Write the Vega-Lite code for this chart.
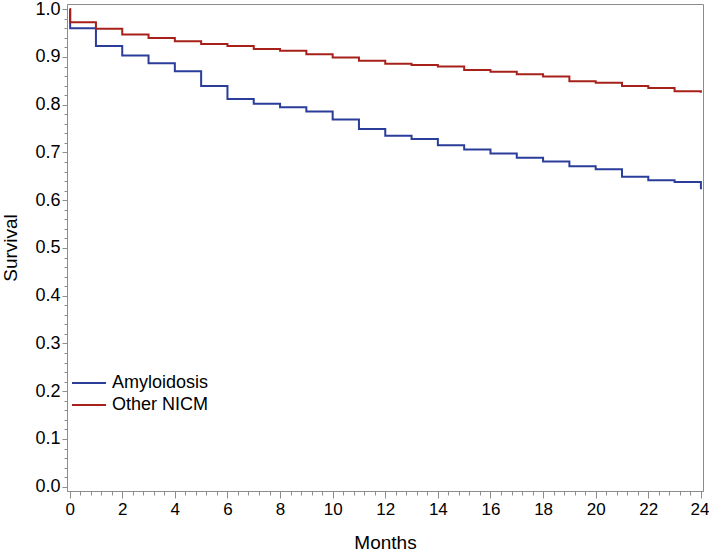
{
  "$schema": "https://vega.github.io/schema/vega-lite/v6.json",
  "width": 636,
  "height": 487,
  "autosize": {"type": "none"},
  "padding": {"left": 67, "top": 4, "right": 6, "bottom": 65},
  "background": "white",
  "config": {
    "font": "Liberation Sans",
    "view": {"stroke": "#8c8c8c", "strokeWidth": 1}
  },
  "data": {
    "values": [
      {"month": 0, "survival": 1.0, "group": "Amyloidosis"},
      {"month": 0.02, "survival": 0.960, "group": "Amyloidosis"},
      {"month": 1, "survival": 0.923, "group": "Amyloidosis"},
      {"month": 2, "survival": 0.903, "group": "Amyloidosis"},
      {"month": 3, "survival": 0.887, "group": "Amyloidosis"},
      {"month": 4, "survival": 0.870, "group": "Amyloidosis"},
      {"month": 5, "survival": 0.839, "group": "Amyloidosis"},
      {"month": 6, "survival": 0.812, "group": "Amyloidosis"},
      {"month": 7, "survival": 0.802, "group": "Amyloidosis"},
      {"month": 8, "survival": 0.795, "group": "Amyloidosis"},
      {"month": 9, "survival": 0.786, "group": "Amyloidosis"},
      {"month": 10, "survival": 0.769, "group": "Amyloidosis"},
      {"month": 11, "survival": 0.749, "group": "Amyloidosis"},
      {"month": 12, "survival": 0.735, "group": "Amyloidosis"},
      {"month": 13, "survival": 0.728, "group": "Amyloidosis"},
      {"month": 14, "survival": 0.715, "group": "Amyloidosis"},
      {"month": 15, "survival": 0.706, "group": "Amyloidosis"},
      {"month": 16, "survival": 0.698, "group": "Amyloidosis"},
      {"month": 17, "survival": 0.689, "group": "Amyloidosis"},
      {"month": 18, "survival": 0.681, "group": "Amyloidosis"},
      {"month": 19, "survival": 0.671, "group": "Amyloidosis"},
      {"month": 20, "survival": 0.665, "group": "Amyloidosis"},
      {"month": 21, "survival": 0.649, "group": "Amyloidosis"},
      {"month": 22, "survival": 0.642, "group": "Amyloidosis"},
      {"month": 23, "survival": 0.638, "group": "Amyloidosis"},
      {"month": 24, "survival": 0.623, "group": "Amyloidosis"},
      {"month": 0, "survival": 1.0, "group": "Other NICM"},
      {"month": 0.02, "survival": 0.973, "group": "Other NICM"},
      {"month": 1, "survival": 0.959, "group": "Other NICM"},
      {"month": 2, "survival": 0.947, "group": "Other NICM"},
      {"month": 3, "survival": 0.940, "group": "Other NICM"},
      {"month": 4, "survival": 0.933, "group": "Other NICM"},
      {"month": 5, "survival": 0.927, "group": "Other NICM"},
      {"month": 6, "survival": 0.923, "group": "Other NICM"},
      {"month": 7, "survival": 0.917, "group": "Other NICM"},
      {"month": 8, "survival": 0.913, "group": "Other NICM"},
      {"month": 9, "survival": 0.906, "group": "Other NICM"},
      {"month": 10, "survival": 0.899, "group": "Other NICM"},
      {"month": 11, "survival": 0.892, "group": "Other NICM"},
      {"month": 12, "survival": 0.886, "group": "Other NICM"},
      {"month": 13, "survival": 0.883, "group": "Other NICM"},
      {"month": 14, "survival": 0.880, "group": "Other NICM"},
      {"month": 15, "survival": 0.873, "group": "Other NICM"},
      {"month": 16, "survival": 0.869, "group": "Other NICM"},
      {"month": 17, "survival": 0.864, "group": "Other NICM"},
      {"month": 18, "survival": 0.859, "group": "Other NICM"},
      {"month": 19, "survival": 0.849, "group": "Other NICM"},
      {"month": 20, "survival": 0.846, "group": "Other NICM"},
      {"month": 21, "survival": 0.839, "group": "Other NICM"},
      {"month": 22, "survival": 0.835, "group": "Other NICM"},
      {"month": 23, "survival": 0.828, "group": "Other NICM"},
      {"month": 24, "survival": 0.825, "group": "Other NICM"}
    ]
  },
  "mark": {"type": "line", "interpolate": "step-after", "strokeWidth": 2},
  "encoding": {
    "x": {
      "field": "month",
      "type": "quantitative",
      "scale": {"domain": [-0.1, 24.08], "nice": false, "zero": false},
      "axis": {
        "title": "Months",
        "titleFontSize": 19,
        "titleFontWeight": "normal",
        "titleColor": "black",
        "titlePadding": 16,
        "values": [0,0.4,0.8,1.2,1.6,2,2.4,2.8,3.2,3.6,4,4.4,4.8,5.2,5.6,6,6.4,6.8,7.2,7.6,8,8.4,8.8,9.2,9.6,10,10.4,10.8,11.2,11.6,12,12.4,12.8,13.2,13.6,14,14.4,14.8,15.2,15.6,16,16.4,16.8,17.2,17.6,18,18.4,18.8,19.2,19.6,20,20.4,20.8,21.2,21.6,22,22.4,22.8,23.2,23.6,24],
        "labelExpr": "abs(datum.value/2 - round(datum.value/2)) < 0.001 ? format(datum.value, '.0f') : ''",
        "labelOverlap": false,
        "labelFlush": false,
        "labelFontSize": 17,
        "labelColor": "black",
        "labelPadding": 3,
        "labelAlign": {"condition": {"test": "datum.value > 23.9", "value": "right"}, "value": "center"},
        "labelOffset": {"condition": {"test": "datum.value > 23.9", "value": 8}, "value": 0},
        "tickSize": {"condition": {"test": "abs(datum.value/2 - round(datum.value/2)) < 0.001", "value": 7}, "value": 4},
        "tickColor": "#8c8c8c",
        "domainColor": "#8c8c8c",
        "grid": false
      }
    },
    "y": {
      "field": "survival",
      "type": "quantitative",
      "scale": {"domain": [-0.009, 1.011], "nice": false, "zero": false},
      "axis": {
        "title": "Survival",
        "titleFontSize": 19,
        "titleFontWeight": "normal",
        "titleColor": "black",
        "titlePadding": 14,
        "values": [0,0.02,0.04,0.06,0.08,0.1,0.12,0.14,0.16,0.18,0.2,0.22,0.24,0.26,0.28,0.3,0.32,0.34,0.36,0.38,0.4,0.42,0.44,0.46,0.48,0.5,0.52,0.54,0.56,0.58,0.6,0.62,0.64,0.66,0.68,0.7,0.72,0.74,0.76,0.78,0.8,0.82,0.84,0.86,0.88,0.9,0.92,0.94,0.96,0.98,1.0],
        "labelExpr": "abs(datum.value*10 - round(datum.value*10)) < 0.001 ? format(datum.value, '.1f') : ''",
        "labelOverlap": false,
        "labelFlush": false,
        "labelFontSize": 18,
        "labelColor": "black",
        "labelPadding": 2,
        "tickSize": {"condition": {"test": "abs(datum.value*10 - round(datum.value*10)) < 0.001", "value": 5}, "value": 3},
        "tickColor": "#8c8c8c",
        "domainColor": "#8c8c8c",
        "grid": false
      }
    },
    "color": {
      "field": "group",
      "type": "nominal",
      "scale": {"domain": ["Amyloidosis", "Other NICM"], "range": ["#2a3d9a", "#a8201a"]},
      "legend": {
        "title": null,
        "orient": "none",
        "legendX": 13,
        "legendY": 370,
        "symbolType": "M-3,0H3",
        "symbolSize": 128,
        "symbolStrokeWidth": 2,
        "labelFontSize": 18,
        "labelColor": "black",
        "labelOffset": 14,
        "rowPadding": 4
      }
    }
  }
}
